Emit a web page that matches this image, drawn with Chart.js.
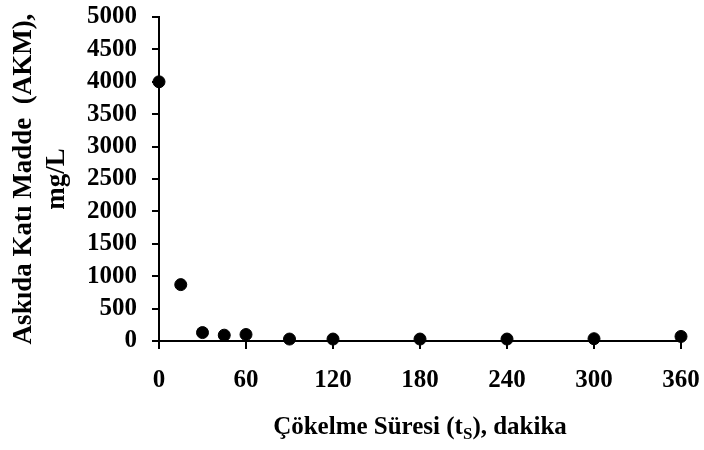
<!DOCTYPE html>
<html>
<head>
<meta charset="utf-8">
<script src="https://cdn.jsdelivr.net/npm/chart.js@4"></script>
<style>
  html, body { margin: 0; padding: 0; background: #fff; }
  #kutu { width: 704px; height: 450px; }
</style>
</head>
<body>
<div id="kutu"><canvas id="grafik"></canvas></div>
<script>
const sureler = [0, 15, 30, 45, 60, 90, 120, 180, 240, 300, 360];
const akmDegerleri = [4000, 870, 130, 90, 100, 30, 30, 30, 30, 35, 70];
const xTikler = [0, 60, 120, 180, 240, 300, 360];
const yTikler = [0, 500, 1000, 1500, 2000, 2500, 3000, 3500, 4000, 4500, 5000];

const yaziTipi = '"Liberation Serif", "Times New Roman", serif';

const noktalar = sureler.map((s, i) => ({ x: s, y: akmDegerleri[i] }));

// x ekseni basligi alt simge (t_S) icin elle cizilir
const xBaslikEklentisi = {
  id: "xBaslik",
  afterDraw(chart) {
    const ctx = chart.ctx;
    const alan = chart.chartArea;
    const parcalar = [
      { t: "Çökelme Süresi (t", boyut: 25, dy: 0 },
      { t: "S", boyut: 17, dy: 5 },
      { t: "), dakika", boyut: 25, dy: 0 }
    ];
    ctx.save();
    ctx.fillStyle = "#000";
    ctx.textBaseline = "alphabetic";
    let toplam = 0;
    parcalar.forEach(p => {
      ctx.font = `bold ${p.boyut}px ${yaziTipi}`;
      toplam += ctx.measureText(p.t).width;
    });
    let x = (alan.left + alan.right) / 2 - toplam / 2;
    const y = 434;
    parcalar.forEach(p => {
      ctx.font = `bold ${p.boyut}px ${yaziTipi}`;
      ctx.fillText(p.t, x, y + p.dy);
      x += ctx.measureText(p.t).width;
    });
    ctx.restore();
  }
};

new Chart(document.getElementById("grafik"), {
  type: "scatter",
  data: {
    datasets: [
      {
        label: "AKM",
        data: noktalar,
        backgroundColor: "#000",
        borderColor: "#000",
        pointRadius: 6,
        pointHoverRadius: 6,
        clip: false
      }
    ]
  },
  options: {
    responsive: true,
    maintainAspectRatio: false,
    animation: false,
    layout: { padding: { top: 17, right: 23, bottom: 0, left: 0 } },
    plugins: {
      legend: { display: false },
      tooltip: { enabled: false }
    },
    scales: {
      x: {
        type: "linear",
        min: 0,
        max: 360,
        afterBuildTicks: scale => {
          scale.ticks = xTikler.map(v => ({ value: v }));
        },
        afterFit: scale => {
          scale.height = 109;
          scale.paddingLeft = 0;
          scale.paddingRight = 0;
        },
        border: { display: true, color: "#000", width: 2 },
        grid: { display: true, drawOnChartArea: false, drawTicks: true, tickLength: 8, color: "#000", lineWidth: 2 },
        ticks: {
          color: "#000",
          padding: 17,
          maxRotation: 0,
          autoSkip: false,
          callback: v => String(v),
          font: { family: yaziTipi, size: 25, weight: "bold" }
        }
      },
      y: {
        min: 0,
        max: 5000,
        afterBuildTicks: scale => {
          scale.ticks = yTikler.map(v => ({ value: v }));
        },
        afterFit: scale => {
          scale.width = 159;
          scale.paddingTop = 0;
          scale.paddingBottom = 0;
        },
        border: { display: true, color: "#000", width: 2 },
        grid: { display: true, drawOnChartArea: false, drawTicks: true, tickLength: 7, color: "#000", lineWidth: 2 },
        ticks: {
          color: "#000",
          padding: 15,
          autoSkip: false,
          callback: v => String(v),
          font: { family: yaziTipi, size: 25, weight: "bold" }
        },
        title: {
          display: true,
          text: ["Askıda Katı Madde  (AKM),", "mg/L"],
          color: "#000",
          padding: { top: 8, bottom: 0 },
          font: { family: yaziTipi, size: 27, weight: "bold", lineHeight: 1.2 }
        }
      }
    }
  },
  plugins: [xBaslikEklentisi]
});
</script>
</body>
</html>
